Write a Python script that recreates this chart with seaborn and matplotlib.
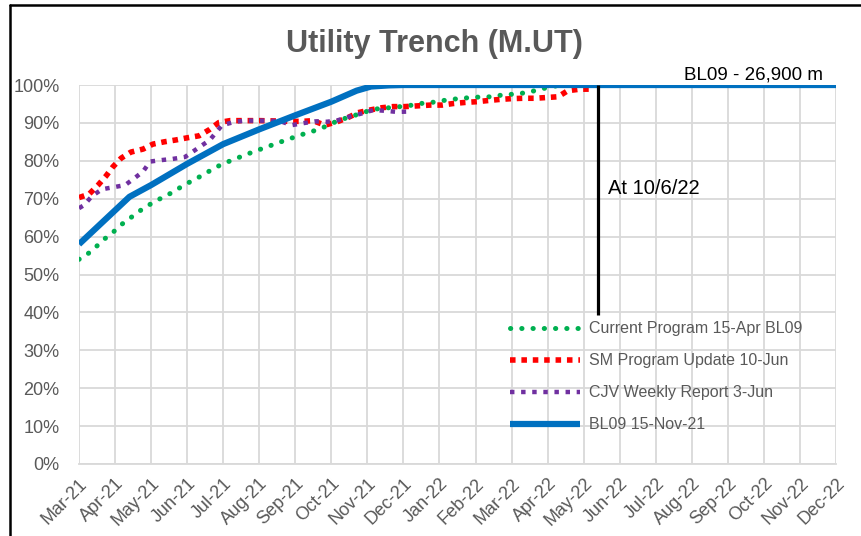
import matplotlib
matplotlib.use("Agg")
import matplotlib.pyplot as plt
import seaborn as sns
from matplotlib.lines import Line2D

# ---------------- data ----------------
months = ["Mar-21", "Apr-21", "May-21", "Jun-21", "Jul-21", "Aug-21", "Sep-21",
          "Oct-21", "Nov-21", "Dec-21", "Jan-22", "Feb-22", "Mar-22", "Apr-22",
          "May-22", "Jun-22", "Jul-22", "Aug-22", "Sep-22", "Oct-22", "Nov-22",
          "Dec-22"]
y_ticks = [0, 10, 20, 30, 40, 50, 60, 70, 80, 90, 100]
y_tick_labels = [f"{v}%" for v in y_ticks]

# x values are positions on the month axis (0 = Mar-21, 1 = Apr-21, ...)
green_x = [0, 0.2, 0.44, 0.67, 0.94, 1.18, 1.72, 2.02, 2.31, 2.6, 2.88, 3.17,
           3.47, 3.75, 4.07, 4.36, 4.65, 4.96, 5.28, 5.6, 5.93, 6.21, 6.55,
           6.88, 7.18, 7.52, 7.85, 8.16, 8.6, 9.13, 9.46, 9.79, 10.1, 10.43,
           10.76, 11.07, 11.46, 11.76, 12.09, 12.43, 12.73, 13.07, 13.4]
green_y = [54, 55.1, 57, 59.1, 61.1, 63.2, 67.0, 68.8, 70.3, 71.7, 73.4, 74.9,
           76.4, 78.1, 79.5, 80.6, 81.7, 82.8, 83.9, 85.0, 86.1, 87.0, 88.0,
           89.2, 90.6, 91.6, 92.6, 93.6, 94.0, 94.5, 95.1, 95.4, 95.9, 96.3,
           96.6, 96.8, 96.9, 97.4, 97.6, 98.0, 98.7, 99.5, 100]

red_x = [0, 0.28, 0.53, 0.75, 0.94, 1.17, 1.44, 1.78, 2.05, 2.36, 2.69, 3.02,
         3.33, 3.63, 3.88, 4.19, 4.6, 5.0, 5.5, 5.85, 6.19, 6.49, 6.82, 7.16,
         7.46, 7.74, 8.07, 8.4, 8.71, 9.04, 9.4, 9.74, 10.07, 10.37, 10.71,
         11.04, 11.35, 11.68, 12.01, 12.32, 12.65, 12.98, 13.29, 13.56, 13.9,
         14.3]
red_y = [70.3, 71.2, 73.6, 76.0, 78.4, 80.7, 82.3, 83.1, 84.4, 85.0, 85.5, 86.1,
         86.6, 88.3, 90.1, 90.6, 90.6, 90.6, 90.5, 90.4, 90.4, 90.6, 89.4, 90.3,
         91.4, 92.7, 93.4, 94.0, 94.3, 94.3, 94.5, 94.7, 94.7, 95.1, 95.4,
         95.6, 95.9, 96.2, 96.4, 96.5, 96.5, 96.7, 96.9, 98.5, 98.9, 98.9]

purple_x = [0, 0.14, 0.36, 0.64, 0.94, 1.28, 1.55, 1.78, 1.97, 2.3, 2.6, 2.94,
            3.63, 3.97, 4.33, 4.6, 4.94, 5.24, 5.6, 5.9, 6.2, 6.55, 6.88, 7.18,
            7.52, 7.85, 8.16, 8.49, 8.82, 9.18]
purple_y = [67.5, 68.3, 70.7, 72.5, 73.0, 73.6, 75.5, 77.2, 79.8, 80.2, 80.5,
            81.0, 85.5, 89.4, 90.3, 90.6, 90.6, 90.6, 90.4, 89.4, 89.9, 90.4,
            90.3, 90.7, 91.7, 92.5, 93.4, 93.2, 92.9, 93.0]

blue_x = [0, 1.4, 2, 3, 4, 5, 6, 7, 7.7, 8.1, 8.6, 9, 21]
blue_y = [58, 70.5, 73.6, 79.2, 84.4, 88.3, 92.0, 95.6, 98.5, 99.6, 99.9, 100, 100]

series_names = ["Current Program 15-Apr BL09", "SM Program Update 10-Jun",
                "CJV Weekly Report 3-Jun", "BL09 15-Nov-21"]

snapshot_pos = 14.4          # position of the "At 10/6/22" marker on month axis
snapshot_low = 39.3          # bottom of the marker line (%)
snapshot_label = "At 10/6/22"
baseline_label = "BL09 - 26,900 m"
title = "Utility Trench (M.UT)"

# ---------------- styles ----------------
GREEN = "#00B050"
RED = "#FF0000"
PURPLE = "#7030A0"
BLUE = "#0070C0"
GRID = "#D9D9D9"
TXT = "#595959"

sns.set_style("white")
plt.rcParams["font.family"] = ["Liberation Sans", "DejaVu Sans"]

fig = plt.figure(figsize=(8.61, 5.36), dpi=100)
ax = fig.add_axes([79 / 861, 1 - 464 / 536, (836 - 79) / 861, (464 - 85) / 536])

green_style = dict(color=GREEN, lw=3.6, linestyle=(0, (0.05, 2.2)),
                   dash_capstyle="round", solid_capstyle="round")
red_style = dict(color=RED, lw=4.0, linestyle=(0, (1.0, 1.05)),
                 dash_capstyle="butt")
purple_style = dict(color=PURPLE, lw=3.2, linestyle=(0, (1.0, 1.5)),
                    dash_capstyle="butt")
blue_style = dict(color=BLUE, lw=4.5, linestyle="-", solid_capstyle="butt")

sns.lineplot(x=green_x, y=green_y, ax=ax, zorder=3, **green_style)
sns.lineplot(x=red_x, y=red_y, ax=ax, zorder=4, **red_style)
sns.lineplot(x=purple_x, y=purple_y, ax=ax, zorder=5, **purple_style)
sns.lineplot(x=blue_x, y=blue_y, ax=ax, zorder=6, **blue_style)

# snapshot marker
ax.vlines(snapshot_pos, snapshot_low, 100, color="black", lw=2.3, zorder=7)
ax.text(snapshot_pos + 0.27, 72.8, snapshot_label, fontsize=14.5,
        color="black", va="center", ha="left", zorder=8)
ax.text(20.64, 102.7, baseline_label, fontsize=13.5, color="black",
        va="center", ha="right", clip_on=False, zorder=8)

# axes
ax.set_xlim(0, len(months) - 1)
ax.set_ylim(0, 100)
ax.set_xticks(range(len(months)))
ax.set_xticklabels(months, rotation=45, ha="right", rotation_mode="anchor",
                   fontsize=13, color=TXT)
ax.set_yticks(y_ticks)
ax.set_yticklabels(y_tick_labels, fontsize=13, color=TXT)
ax.tick_params(axis="x", length=5, width=1.2, color=GRID, pad=3)
ax.tick_params(axis="y", length=0, pad=14)
ax.grid(True, color=GRID, lw=1.3)
ax.set_axisbelow(True)
for side in ["top", "right", "left"]:
    ax.spines[side].set_visible(False)
ax.spines["bottom"].set_color(GRID)
ax.spines["bottom"].set_linewidth(1.3)
ax.set_xlabel("")
ax.set_ylabel("")

# legend
handles = [Line2D([], [], **green_style), Line2D([], [], **red_style),
           Line2D([], [], **purple_style), Line2D([], [], **blue_style)]
leg = ax.legend(handles, series_names, loc="upper left",
                bbox_to_anchor=(0.569, 0.377), frameon=False, borderpad=0,
                borderaxespad=0, handlelength=4.4, handletextpad=0.55,
                labelspacing=1.07, fontsize=11.5)
for t in leg.get_texts():
    t.set_color(TXT)

# title
fig.text(0.505, 1 - 44 / 536, title, fontsize=22, fontweight="bold",
         color=TXT, ha="center", va="center")

# outer frame (top and left)
fig.add_artist(Line2D([10 / 861, 10 / 861], [0, 1 - 5 / 536],
                      transform=fig.transFigure, color="black", lw=1.8))
fig.add_artist(Line2D([10 / 861, 1], [1 - 5 / 536, 1 - 5 / 536],
                      transform=fig.transFigure, color="black", lw=1.8))

fig.savefig("out.png", dpi=100)
